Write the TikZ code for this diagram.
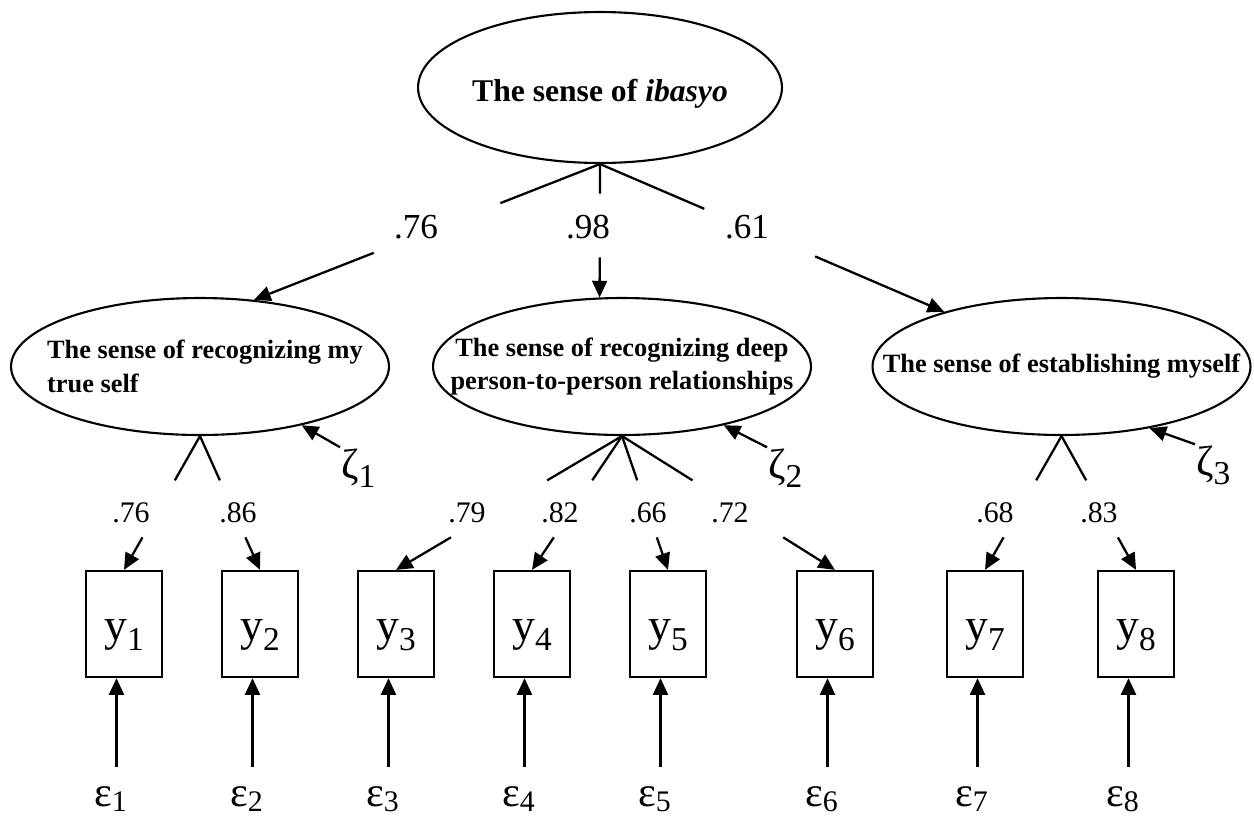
\documentclass[tikz,border=0pt]{standalone}
\usepackage{fontspec}
\setmainfont{Liberation Serif}
\usetikzlibrary{shapes.geometric,arrows.meta,calc}
\newcommand{\idx}[1]{\raisebox{-5.5pt}{\fontsize{19}{19}\selectfont #1}}
\newcommand{\eidx}[1]{\raisebox{-3pt}{\fontsize{17}{17}\selectfont #1}}
\tikzset{
  latent/.style={ellipse, draw, line width=1.2pt, inner sep=0pt,
    minimum width=7.56cm, minimum height=2.74cm},
  latenttext/.style={inner sep=0pt, font=\bfseries\fontsize{15}{19}\selectfont},
  observed/.style={rectangle, draw, line width=1.3pt, inner sep=0pt,
    minimum width=1.52cm, minimum height=2.12cm,
    font=\fontsize{26}{26}\selectfont, text height=19pt, text depth=0pt},
  loadtop/.style={inner sep=0pt, anchor=base, font=\fontsize{20}{20}\selectfont},
  loadlow/.style={inner sep=0pt, anchor=base, font=\fontsize{17}{17}\selectfont},
  errlabel/.style={inner sep=0pt, anchor=base west, font=\fontsize{24}{24}\selectfont},
  arr/.style={-{Triangle[length=9.5pt,width=8.5pt]}},
}
\begin{document}
\begin{tikzpicture}[x=0.02cm, y=-0.02cm, line width=1.3pt]
  \useasboundingbox (0,0) rectangle (1254,816);
  % second-order factor
  \node[latent, minimum width=7.28cm, minimum height=3.02cm,
    label={[latenttext, font=\bfseries\fontsize{18}{22}\selectfont, text height=16pt, text depth=0pt]center:The sense of \textit{ibasyo}\hspace{0.6cm}}]
    (ibasyo) at (600,87.5) {};
  % first-order factors
  \node[latent, label={[latenttext, align=left, xshift=0.1cm]center:The sense of recognizing my\\true self}] (self) at (200,366.5) {};
  \node[latent, label={[latenttext, align=center]center:The sense of recognizing deep\\person-to-person relationships}] (deep) at (622,366.5) {};
  \node[latent, label={[latenttext]center:The sense of establishing myself}] (estab) at (1061.5,366.5) {};
  % loadings on the second-order factor
  \foreach \tgt/\ang/\ta/\tb/\lx/\val [count=\i] in
    {self/51/0.288/0.654/416/.76, deep/108/0.221/0.70/588/.98, estab/155/0.303/0.625/747/.61} {
    \node[loadtop] (g\i) at (\lx,238) {\val};
    \coordinate (g\i top) at ($(ibasyo.south)!\ta!(\tgt.\ang)$);
    \coordinate (g\i bot) at ($(ibasyo.south)!\tb!(\tgt.\ang)$);
    \draw (ibasyo.south) -- (g\i top);
    \draw[arr] (g\i bot) -- (\tgt.\ang);
  }
  % disturbances
  \foreach \fac/\zx/\zy/\ang [count=\i] in {self/340/478/-30, deep/767/478/-30, estab/1195/475/-35} {
    \node[errlabel] (z\i) at (\zx,\zy) {ζ\idx{\i}};
    \draw[arr] (z\i.north west) -- (\fac.\ang);
  }
  % indicators, loadings and measurement errors
  \foreach \bx/\fac/\lx/\val [count=\i] in
    {124/self/131/.76, 260/self/238/.86, 396/deep/467/.79, 532/deep/560/.82,
     668/deep/648/.66, 835/deep/730/.72, 985/estab/995/.68, 1136/estab/1099/.83} {
    \node[observed] (y\i) at (\bx,624) {y\idx{\i}};
    \node[loadlow] (l\i) at (\lx,522) {\val};
    \coordinate (l\i top) at ($(\fac.south)!0.331!(y\i.north)$);
    \coordinate (l\i bot) at ($(\fac.south)!0.757!(y\i.north)$);
    \draw (\fac.south) -- (l\i top);
    \draw[arr] (l\i bot) -- (y\i.north);
    \node[errlabel] (e\i) at (\bx-31,806) {ε\eidx{\i}};
    \draw[arr, shorten <=0.36cm] ([xshift=-0.15cm]y\i.south |- e\i.north) -- ([xshift=-0.15cm]y\i.south);
  }
\end{tikzpicture}
\end{document}
